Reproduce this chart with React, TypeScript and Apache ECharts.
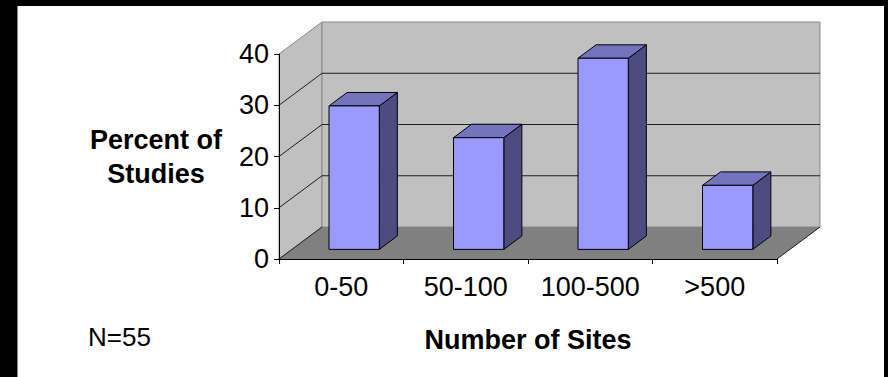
import React, { useEffect, useRef } from "react";
import * as echarts from "echarts";

// Share of studies by number of participating sites
const categories = ["0-50", "50-100", "100-500", ">500"];
const percentValues = [28, 21.8, 37.3, 12.5];
const yTicks = [0, 10, 20, 30, 40];
const sampleNote = "N=55";

const FONT = '"Liberation Sans", Arial, Helvetica, sans-serif';

// Oblique projection of the depth axis
const DEPTH_X = 43;
const DEPTH_Y = -32;
const BAR_FRONT = 0.3; // bar front face, as a fraction of the floor depth
const BAR_DEPTH = 0.42; // bar thickness, as a fraction of the floor depth
const BAR_WIDTH = 0.404; // bar width, as a fraction of the category band

const WALL = "#C0C0C0";
const WALL_EDGE = "#8A8A8A";
const FLOOR = "#808080";
const GRID = "#1E1E1E";
const FACE = "#9999FF";
const TOP = "#7373BF";
const SIDE = "#4C4C80";

function renderWalls(params: any, api: any) {
  const cs = params.coordSys;
  const left = cs.x;
  const right = cs.x + cs.width;
  const yOf = (v: number) => api.coord([0, v])[1];
  const y0 = yOf(yTicks[0]);
  const yTop = yOf(yTicks[yTicks.length - 1]);
  const children: any[] = [
    {
      type: "polygon",
      shape: {
        points: [
          [left, y0],
          [left + DEPTH_X, y0 + DEPTH_Y],
          [left + DEPTH_X, yTop + DEPTH_Y],
          [left, yTop],
        ],
      },
      style: { fill: WALL, stroke: WALL_EDGE, lineWidth: 1 },
    },
    {
      type: "rect",
      shape: {
        x: left + DEPTH_X,
        y: yTop + DEPTH_Y,
        width: right - left,
        height: y0 - yTop,
      },
      style: { fill: WALL, stroke: WALL_EDGE, lineWidth: 1 },
    },
    {
      type: "polygon",
      shape: {
        points: [
          [left, y0],
          [right, y0],
          [right + DEPTH_X, y0 + DEPTH_Y],
          [left + DEPTH_X, y0 + DEPTH_Y],
        ],
      },
      style: { fill: FLOOR },
    },
    {
      type: "line",
      shape: { x1: right, y1: y0, x2: right + DEPTH_X, y2: y0 + DEPTH_Y },
      style: { stroke: GRID, lineWidth: 1 },
    },
  ];
  yTicks.slice(0, -1).forEach((t) => {
    const y = yOf(t);
    children.push({
      type: "line",
      shape: { x1: left, y1: y, x2: left + DEPTH_X, y2: y + DEPTH_Y },
      style: { stroke: GRID, lineWidth: 1 },
    });
    if (t !== yTicks[0]) {
      children.push({
        type: "line",
        shape: {
          x1: left + DEPTH_X,
          y1: y + DEPTH_Y,
          x2: right + DEPTH_X,
          y2: y + DEPTH_Y,
        },
        style: { stroke: GRID, lineWidth: 1 },
      });
    }
  });
  return { type: "group", children };
}

function renderBar(params: any, api: any) {
  const cat = api.value(0);
  const val = api.value(1);
  const base = api.coord([cat, 0]);
  const top = api.coord([cat, val]);
  const band = api.size([1, 0])[0];
  const w = band * BAR_WIDTH;
  const fx = DEPTH_X * BAR_FRONT;
  const fy = DEPTH_Y * BAR_FRONT;
  const bx = DEPTH_X * BAR_DEPTH;
  const by = DEPTH_Y * BAR_DEPTH;
  const x0 = base[0] + fx - w / 2;
  const x1 = x0 + w;
  const yb = base[1] + fy;
  const yt = top[1] + fy;
  const edge = { stroke: "#000", lineWidth: 1, lineJoin: "round" };
  return {
    type: "group",
    children: [
      {
        type: "polygon",
        shape: { points: [[x1, yb], [x1 + bx, yb + by], [x1 + bx, yt + by], [x1, yt]] },
        style: { fill: SIDE, ...edge },
      },
      {
        type: "polygon",
        shape: { points: [[x0, yt], [x1, yt], [x1 + bx, yt + by], [x0 + bx, yt + by]] },
        style: { fill: TOP, ...edge },
      },
      {
        type: "rect",
        shape: { x: x0, y: yt, width: w, height: yb - yt },
        style: { fill: FACE, ...edge },
      },
    ],
  };
}

export default function App() {
  const ref = useRef<HTMLDivElement>(null);

  useEffect(() => {
    if (!ref.current) return;
    const chart = echarts.init(ref.current, undefined, { renderer: "svg" });
    chart.setOption({
      animation: false,
      backgroundColor: "transparent",
      textStyle: { fontFamily: FONT },
      grid: { left: 279, top: 54, right: 111, bottom: 118, containLabel: false },
      xAxis: {
        type: "category",
        data: categories,
        z: 5,
        name: "Number of Sites",
        nameLocation: "middle",
        nameGap: 67,
        nameTextStyle: { fontFamily: FONT, fontSize: 27, fontWeight: "bold", color: "#000" },
        axisLine: { show: true, lineStyle: { color: "#000", width: 1 } },
        axisTick: { show: true, length: 5, lineStyle: { color: "#000" } },
        axisLabel: { fontFamily: FONT, fontSize: 27, color: "#000", margin: 14, interval: 0 },
        splitLine: { show: false },
      },
      yAxis: {
        type: "value",
        min: 0,
        max: 40,
        interval: 10,
        z: 5,
        name: "Percent of\nStudies",
        nameLocation: "middle",
        nameRotate: 0,
        nameGap: 123,
        nameTextStyle: {
          fontFamily: FONT,
          fontSize: 27,
          fontWeight: "bold",
          color: "#000",
          align: "center",
          verticalAlign: "middle",
          lineHeight: 34,
        },
        axisLine: { show: true, lineStyle: { color: "#000", width: 1 } },
        axisTick: { show: true, length: 5, lineStyle: { color: "#000" } },
        axisLabel: { fontFamily: FONT, fontSize: 27, color: "#000", margin: 10 },
        splitLine: { show: false },
      },
      graphic: [
        {
          type: "text",
          left: 88,
          top: 324,
          style: { text: sampleNote, font: `26px ${FONT}`, fill: "#000" },
        },
      ],
      series: [
        {
          type: "custom",
          z: 1,
          silent: true,
          renderItem: renderWalls,
          data: [[0, 0]],
        },
        {
          type: "custom",
          z: 3,
          renderItem: renderBar,
          data: percentValues.map((v, i) => [i, v]),
        },
      ],
    });
    return () => chart.dispose();
  }, []);

  return (
    <div
      style={{
        position: "fixed",
        left: 0,
        top: 0,
        width: 888,
        height: 377,
        background: "#000",
        overflow: "hidden",
      }}
    >
      <div
        style={{
          position: "absolute",
          left: 17,
          top: 6,
          right: 4,
          bottom: -20,
          background: "#fff",
          borderLeft: "1px solid #8a8a8a",
        }}
      />
      <div ref={ref} style={{ position: "absolute", left: 0, top: 0, width: 888, height: 377 }} />
    </div>
  );
}
